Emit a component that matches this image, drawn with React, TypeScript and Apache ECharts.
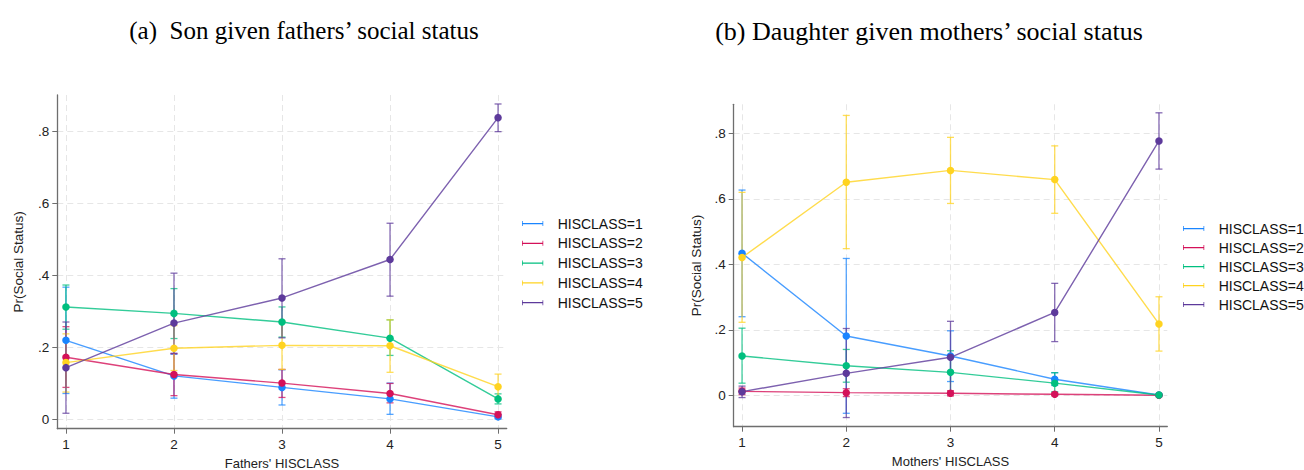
import React, { useEffect, useRef } from "react";
import * as echarts from "echarts";

const seriesNames = ["HISCLASS=1", "HISCLASS=2", "HISCLASS=3", "HISCLASS=4", "HISCLASS=5"];
const colors = ["#1a85ff", "#d41159", "#00bf7f", "#ffd320", "#5d3a9b"];
const xValues = [1, 2, 3, 4, 5];
const yTicks = [0, 0.2, 0.4, 0.6, 0.8];

// (a) Son given fathers' social status
const sonMean = [
  [0.219, 0.120, 0.088, 0.056, 0.006],
  [0.172, 0.124, 0.100, 0.071, 0.012],
  [0.312, 0.294, 0.270, 0.225, 0.056],
  [0.157, 0.197, 0.205, 0.204, 0.090],
  [0.143, 0.267, 0.337, 0.444, 0.839],
];
const sonLow = [
  [0.071, 0.058, 0.039, 0.013, 0.000],
  [0.088, 0.065, 0.060, 0.045, 0.004],
  [0.250, 0.224, 0.228, 0.177, 0.042],
  [0.075, 0.135, 0.138, 0.130, 0.055],
  [0.016, 0.183, 0.226, 0.342, 0.800],
];
const sonHigh = [
  [0.367, 0.180, 0.137, 0.100, 0.012],
  [0.257, 0.182, 0.138, 0.099, 0.020],
  [0.373, 0.363, 0.312, 0.276, 0.070],
  [0.237, 0.260, 0.272, 0.276, 0.125],
  [0.270, 0.406, 0.446, 0.545, 0.877],
];

// (b) Daughter given mothers' social status
const dauMean = [
  [0.434, 0.181, 0.120, 0.049, 0.001],
  [0.012, 0.008, 0.006, 0.003, 0.000],
  [0.120, 0.090, 0.070, 0.037, 0.001],
  [0.421, 0.651, 0.687, 0.659, 0.218],
  [0.011, 0.067, 0.116, 0.253, 0.777],
];
const dauLow = [
  [0.240, -0.055, 0.042, 0.030, 0.000],
  [0.002, -0.004, -0.002, -0.001, 0.000],
  [0.037, 0.040, 0.005, 0.011, 0.000],
  [0.223, 0.448, 0.586, 0.556, 0.135],
  [-0.007, -0.068, 0.006, 0.164, 0.691],
];
const dauHigh = [
  [0.627, 0.418, 0.197, 0.069, 0.002],
  [0.022, 0.020, 0.014, 0.007, 0.000],
  [0.205, 0.140, 0.136, 0.069, 0.002],
  [0.620, 0.855, 0.788, 0.762, 0.301],
  [0.028, 0.204, 0.226, 0.342, 0.863],
];

const FONT = "Liberation Sans, Arial, Helvetica, sans-serif";
const SERIF = "Liberation Serif, Times New Roman, serif";
const LEGEND_ICON = "path://M0,0H1.2V3H32.8V0H34V8H32.8V5H1.2V8H0Z";

function fmtY(v: number) {
  if (Math.abs(v) < 1e-9) return "0";
  return String(Math.round(v * 10) / 10).replace(/^0/, "");
}

function xAxisCfg(gridIndex: number, name: string, nameGap: number) {
  return {
    type: "value",
    gridIndex,
    min: 0.92,
    max: 5.08,
    name,
    nameLocation: "middle",
    nameGap,
    nameTextStyle: { fontFamily: FONT, fontSize: 13, color: "#222" },
    axisLine: { show: true, onZero: false, lineStyle: { color: "#6e6e6e", width: 1.3 } },
    axisTick: { show: true, length: 5, lineStyle: { color: "#6e6e6e", width: 1 }, customValues: xValues },
    axisLabel: { fontFamily: FONT, fontSize: 13.5, color: "#222", margin: 9, customValues: xValues },
    splitLine: { show: true, lineStyle: { color: "#e6e6e6", type: [6, 4], width: 1 } },
  };
}

function yAxisCfg(gridIndex: number, min: number, max: number, nameGap: number) {
  return {
    type: "value",
    gridIndex,
    min,
    max,
    name: "Pr(Social Status)",
    nameLocation: "middle",
    nameGap,
    nameTextStyle: { fontFamily: FONT, fontSize: 13.5, color: "#222" },
    axisLine: { show: true, onZero: false, lineStyle: { color: "#6e6e6e", width: 1.3 } },
    axisTick: { show: true, length: 5, lineStyle: { color: "#6e6e6e", width: 1 }, customValues: yTicks },
    axisLabel: { fontFamily: FONT, fontSize: 13.5, color: "#222", margin: 8, customValues: yTicks, formatter: fmtY },
    splitLine: { show: true, lineStyle: { color: "#e6e6e6", type: [6, 4], width: 1 } },
  };
}

function buildSeries(axisIndex: number, mean: number[][], low: number[][], high: number[][]) {
  const out: any[] = [];
  seriesNames.forEach((name, i) => {
    const color = colors[i];
    out.push({
      type: "custom",
      name,
      xAxisIndex: axisIndex,
      yAxisIndex: axisIndex,
      z: 2,
      silent: true,
      itemStyle: { color },
      encode: { x: 0, y: [1, 2] },
      data: xValues.map((x, k) => [x, low[i][k], high[i][k]]),
      renderItem: (params: any, api: any) => {
        const x = api.value(0);
        const p1 = api.coord([x, api.value(1)]);
        const p2 = api.coord([x, api.value(2)]);
        const half = 3.5;
        const style = { stroke: color, lineWidth: 1.3, opacity: 0.75 };
        return {
          type: "group",
          children: [
            { type: "line", shape: { x1: p1[0], y1: p1[1], x2: p2[0], y2: p2[1] }, style },
            { type: "line", shape: { x1: p1[0] - half, y1: p1[1], x2: p1[0] + half, y2: p1[1] }, style },
            { type: "line", shape: { x1: p2[0] - half, y1: p2[1], x2: p2[0] + half, y2: p2[1] }, style },
          ],
        };
      },
    });
  });
  seriesNames.forEach((name, i) => {
    const color = colors[i];
    out.push({
      type: "line",
      name,
      xAxisIndex: axisIndex,
      yAxisIndex: axisIndex,
      z: 3,
      data: xValues.map((x, k) => [x, mean[i][k]]),
      symbol: "circle",
      symbolSize: 7.5,
      itemStyle: { color, opacity: 1 },
      lineStyle: { color, width: 1.4, opacity: 0.8 },
      emphasis: { disabled: true },
    });
  });
  return out;
}

function legendCfg(left: number, top: number, gap: number) {
  return {
    orient: "vertical",
    left,
    top,
    data: seriesNames.map((n) => ({ name: n, icon: LEGEND_ICON })),
    itemWidth: 34,
    itemHeight: 5,
    itemGap: gap,
    selectedMode: false,
    textStyle: { fontFamily: FONT, fontSize: 14, color: "#111", lineHeight: 14, padding: [0, 0, 0, 3] },
  };
}

export default function App() {
  const ref = useRef<HTMLDivElement>(null);
  useEffect(() => {
    document.body.style.margin = "0";
    if (!ref.current) return;
    const chart = echarts.init(ref.current, null, { renderer: "svg" });
    chart.setOption({
      animation: false,
      backgroundColor: "#ffffff",
      graphic: [
        {
          type: "text",
          x: 304,
          y: 30,
          style: {
            text: "(a)\u00a0\u00a0Son given fathers\u2019 social status",
            font: `25px ${SERIF}`,
            fill: "#000",
            textAlign: "center",
            textVerticalAlign: "middle",
          },
        },
        {
          type: "text",
          x: 929,
          y: 31,
          style: {
            text: "(b) Daughter given mothers\u2019 social status",
            font: `26px ${SERIF}`,
            fill: "#000",
            textAlign: "center",
            textVerticalAlign: "middle",
          },
        },
      ],
      grid: [
        { left: 57.3, right: 797.3, top: 95, bottom: 41.3, outerBoundsMode: "none" },
        { left: 733.7, right: 136.7, top: 104.3, bottom: 43.3, outerBoundsMode: "none" },
      ],
      xAxis: [xAxisCfg(0, "Fathers' HISCLASS", 25), xAxisCfg(1, "Mothers' HISCLASS", 24)],
      yAxis: [yAxisCfg(0, -0.027, 0.902, 32), yAxisCfg(1, -0.096, 0.889, 30)],
      legend: [legendCfg(517, 211.5, 5.8), legendCfg(1178, 216.5, 5.0)],
      series: [
        ...buildSeries(0, sonMean, sonLow, sonHigh),
        ...buildSeries(1, dauMean, dauLow, dauHigh),
      ],
    });
    return () => chart.dispose();
  }, []);
  return <div ref={ref} style={{ width: 1304, height: 470 }} />;
}
